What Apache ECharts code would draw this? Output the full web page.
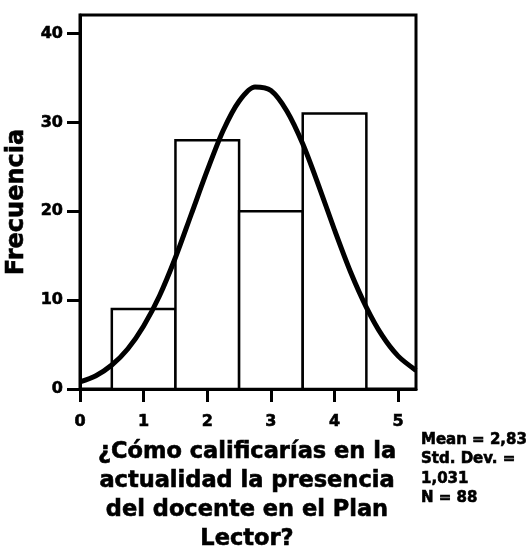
<!DOCTYPE html>
<html>
<head>
<meta charset="utf-8">
<script src="https://cdn.jsdelivr.net/npm/echarts@6/dist/echarts.min.js"></script>
<style>
  html, body { margin: 0; padding: 0; background: #fff; }
  #chart { width: 529px; height: 553px; }
</style>
</head>
<body>
<div id="chart"></div>
<script>
// histograma - centros de clase y frecuencias
const binCenters = [1, 2, 3, 4]
const binCounts = [9, 28, 20, 31]

// curva normal
const curveX = [0, 0.25, 0.5, 0.75, 1, 1.25, 1.5, 1.75, 2, 2.25, 2.5, 2.75, 3, 3.25, 3.5, 3.75, 4, 4.25, 4.5, 4.75, 5, 5.28]
const curveY = [0.8, 1.5, 2.7, 4.5, 7.1, 10.5, 14.8, 19.7, 24.6, 29.1, 32.4, 34, 33.6, 31.3, 27.6, 22.9, 17.9, 13.2, 9.2, 6.0, 3.7, 2.1]

// ticks
const xTicks = [0, 1, 2, 3, 4, 5]
const yTicks = [0, 10, 20, 30, 40]

const titleText = '¿Cómo calificarías en la\nactualidad la presencia\ndel docente en el Plan\nLector?'
const statsText = 'Mean = 2,83\nStd. Dev. =\n1,031\nN = 88'

const font = '"DejaVu Sans", sans-serif'
// trazo extra para que el texto se vea tan grueso como el original
const heavy = { textBorderColor: '#000', textBorderWidth: 0.6 }

const chart = echarts.init(document.getElementById('chart'))

const option = {
  animation: false,
  title: [
    {
      text: titleText,
      left: 247,
      top: 438,
      padding: 0,
      textAlign: 'center',
      textStyle: Object.assign({ fontFamily: font, fontWeight: 'bold', fontSize: 22.5, lineHeight: 29, color: '#000' }, heavy)
    },
    {
      text: statsText,
      left: 421,
      top: 430,
      padding: 0,
      textStyle: Object.assign({ fontFamily: font, fontWeight: 'bold', fontSize: 15, lineHeight: 19.5, color: '#000' }, heavy)
    }
  ],
  grid: {
    left: 80,
    right: 113,
    top: 15,
    bottom: 164,
    outerBoundsMode: 'none',
    show: true,
    borderColor: '#000',
    borderWidth: 3
  },
  xAxis: {
    type: 'value',
    min: 0,
    max: 5.28,
    interval: 1,
    splitLine: { show: false },
    axisLine: { show: true, onZero: false, lineStyle: { color: '#000', width: 3 } },
    axisTick: { show: true, customValues: xTicks, length: 13, lineStyle: { color: '#000', width: 3 } },
    axisLabel: Object.assign({
      customValues: xTicks,
      color: '#000',
      fontFamily: font,
      fontWeight: 'bold',
      fontSize: 16,
      margin: 25
    }, heavy)
  },
  yAxis: {
    type: 'value',
    min: 0,
    max: 42.1,
    interval: 10,
    name: 'Frecuencia',
    nameLocation: 'middle',
    nameRotate: 90,
    nameGap: 49,
    nameTextStyle: Object.assign({ fontFamily: font, fontWeight: 'bold', fontSize: 24, color: '#000' }, heavy),
    splitLine: { show: false },
    axisLine: { show: true, lineStyle: { color: '#000', width: 3 } },
    axisTick: { show: true, customValues: yTicks, length: 13, lineStyle: { color: '#000', width: 3 } },
    axisLabel: Object.assign({
      customValues: yTicks,
      color: '#000',
      fontFamily: font,
      fontWeight: 'bold',
      fontSize: 16,
      margin: 17
    }, heavy)
  },
  series: [
    {
      // barras del histograma, ancho = 1
      type: 'custom',
      data: binCenters.map((c, i) => [c, binCounts[i]]),
      renderItem: function (params, api) {
        const x = api.value(0)
        const topLeft = api.coord([x - 0.5, api.value(1)])
        const bottomRight = api.coord([x + 0.5, 0])
        return {
          type: 'rect',
          shape: {
            x: topLeft[0],
            y: topLeft[1],
            width: bottomRight[0] - topLeft[0],
            height: bottomRight[1] - topLeft[1]
          },
          style: { fill: '#fff', stroke: '#000', lineWidth: 2.5 }
        }
      },
      z: 2
    },
    {
      // curva normal
      type: 'line',
      data: curveX.map((x, i) => [x, curveY[i]]),
      smooth: 0.3,
      symbol: 'none',
      clip: true,
      lineStyle: { color: '#000', width: 5 },
      z: 3
    }
  ]
}

chart.setOption(option)
</script>
</body>
</html>
